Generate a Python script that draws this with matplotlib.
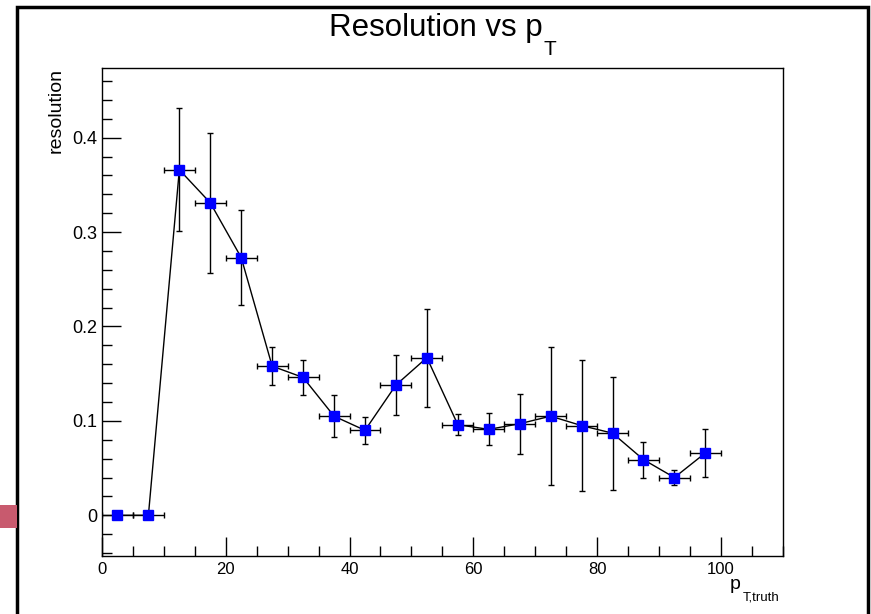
#! /usr/bin/env python

# Resolution vs pT plot, ROOT-like style

import numpy as np
import matplotlib.pyplot as plt
from matplotlib.ticker import MultipleLocator
from matplotlib.patches import Rectangle

# data
pt_centers = [2.5, 7.5, 12.5, 17.5, 22.5, 27.5, 32.5, 37.5, 42.5, 47.5,
              52.5, 57.5, 62.5, 67.5, 72.5, 77.5, 82.5, 87.5, 92.5, 97.5]
pt_halfwidth = [2.5] * 20
resolution = [0.0, 0.0, 0.366, 0.331, 0.273, 0.158, 0.146, 0.105, 0.090, 0.138,
              0.167, 0.096, 0.091, 0.097, 0.105, 0.095, 0.087, 0.059, 0.040, 0.066]
res_err = [0.0, 0.0, 0.065, 0.074, 0.050, 0.020, 0.019, 0.022, 0.014, 0.032,
           0.052, 0.011, 0.017, 0.032, 0.073, 0.069, 0.060, 0.019, 0.008, 0.025]

plt.rcParams['font.family'] = ['Liberation Sans', 'DejaVu Sans']

W, H = 871.0, 614.0
fig = plt.figure(figsize=(8.71, 6.14), dpi=100)
ax = fig.add_axes([0.1171, 0.0945, 0.7815, 0.7952])

ax.errorbar(pt_centers, resolution, xerr=pt_halfwidth, yerr=res_err,
            fmt='none', ecolor='black', elinewidth=1.0, capsize=2, capthick=1.0, zorder=2)
ax.plot(pt_centers, resolution, color='black', linewidth=1.0, zorder=3)
ax.plot(pt_centers, resolution, linestyle='none', marker='s', markersize=7.5,
        markerfacecolor='blue', markeredgecolor='blue', zorder=4)

ax.set_xlim(0, 110)
ax.set_ylim(-0.0431, 0.4741)

ax.xaxis.set_minor_locator(MultipleLocator(5))
ax.yaxis.set_minor_locator(MultipleLocator(0.02))
ax.set_yticks([0, 0.1, 0.2, 0.3, 0.4])
ax.set_yticklabels(['0', '0.1', '0.2', '0.3', '0.4'])
ax.set_xticks([0, 20, 40, 60, 80, 100])
ax.set_xticklabels(['0', '20', '40', '60', '80', '100'])

ax.tick_params(which='both', direction='in', top=False, right=False)
ax.tick_params(which='major', length=14, width=1)
ax.tick_params(which='minor', length=7, width=1)
ax.tick_params(axis='x', pad=4, labelsize=12)
ax.tick_params(axis='y', pad=3.5, labelsize=13)
for s in ax.spines.values():
    s.set_linewidth(1.0)

# axis titles placed like ROOT
fig.text(48 / W, 1 - 68 / H, 'resolution', rotation=90, ha='left', va='top', fontsize=14)
fig.text(730 / W, 1 - 589 / H, 'p', ha='left', va='baseline', fontsize=14)
fig.text(743 / W, 1 - 601 / H, 'T,truth', ha='left', va='baseline', fontsize=9.5)

# title with lowered subscript
title = fig.text(435.5 / W, 1 - 36 / H, 'Resolution vs p', ha='center', va='baseline', fontsize=22.5)
fig.canvas.draw()
bb = title.get_window_extent()
fig.text((bb.x1 + 1) / W, 1 - 55 / H, 'T', ha='left', va='baseline', fontsize=15)

# window frame and side marker
fig.patches.append(Rectangle((0.0195, -0.02), 0.977, 1.009, transform=fig.transFigure,
                             fill=False, edgecolor='black', linewidth=2.5))
fig.patches.append(Rectangle((0.0, 0.140), 0.019, 0.037, transform=fig.transFigure,
                             facecolor='#c85a6e', edgecolor='none'))

fig.savefig('out.png', dpi=100)
